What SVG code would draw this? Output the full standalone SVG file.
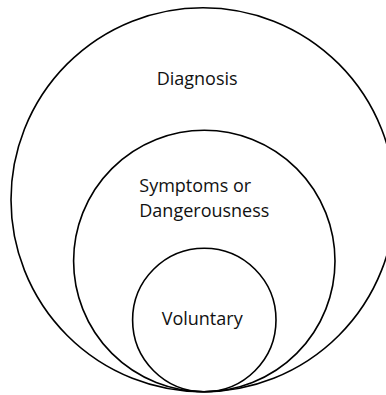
<svg xmlns="http://www.w3.org/2000/svg" width="386" height="395" viewBox="0 0 386 395">
<style>
.c{fill:none;stroke:#000;stroke-width:1.6}
.t{font-family:"Open Sans","Liberation Sans",sans-serif;font-size:18px;fill:#111}
</style>
<rect width="386" height="395" fill="#fff"/>
<g id="diagnosis">
<circle class="c" cx="203" cy="199.7" r="192"/>
<text class="t" x="156.7" y="85">Diagnosis</text>
</g>
<g id="symptoms">
<circle class="c" cx="204.3" cy="261" r="130.7"/>
<text class="t" x="139.3" y="191.7">Symptoms or</text>
<text class="t" x="139.3" y="216.7">Dangerousness</text>
</g>
<g id="voluntary">
<circle class="c" cx="204.3" cy="320" r="71.7"/>
<text class="t" x="161.7" y="325">Voluntary</text>
</g>
<g id="connectors"/>
</svg>
